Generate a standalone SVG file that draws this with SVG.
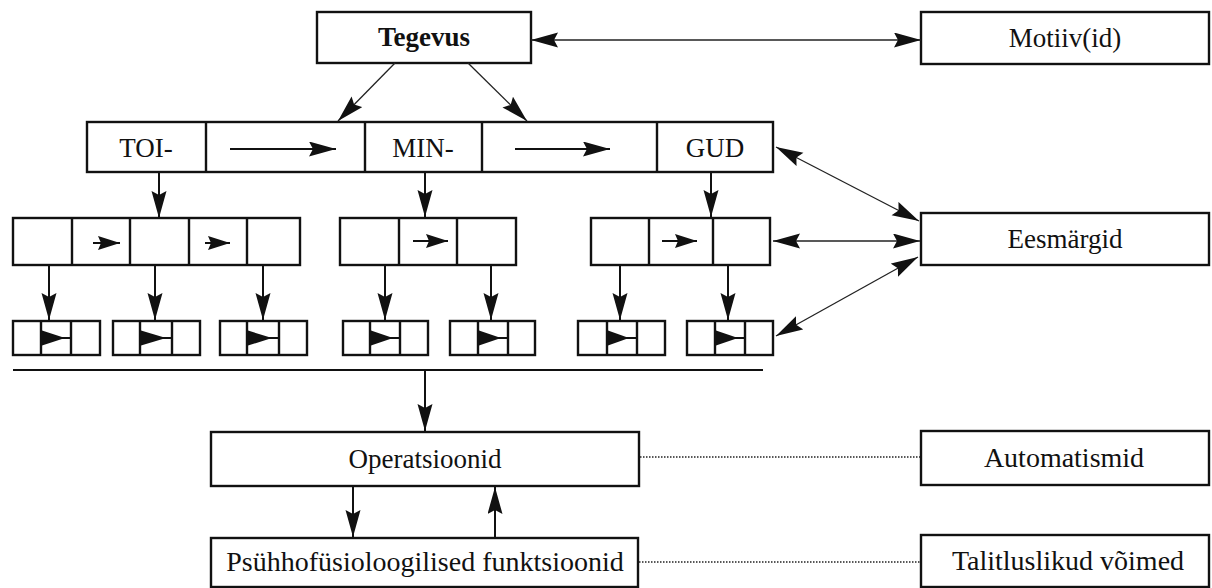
<svg xmlns="http://www.w3.org/2000/svg" width="1212" height="588" viewBox="0 0 1212 588">
  <style>
    .box { fill: #fff; stroke: #111; stroke-width: 2.4; }
    .cell { fill: none; stroke: #111; stroke-width: 2.4; }
    .lbl { font-family: "Liberation Serif", "Times New Roman", serif; font-size: 27px; fill: #111; text-anchor: middle; }
    .big { font-size: 28px; }
    .bold { font-weight: bold; }
    .arr { fill: none; stroke: #111; stroke-width: 2; }
    .thin { fill: none; stroke: #222; stroke-width: 1.3; }
    .dot { fill: none; stroke: #222; stroke-width: 1.3; stroke-dasharray: 1.5 1.5; }
    .head { fill: #111; }
  </style>
  <defs>
    <marker id="ah" markerUnits="userSpaceOnUse" markerWidth="30" markerHeight="16" refX="27" refY="7.5" orient="auto-start-reverse">
      <path d="M0,0 L27,7.5 L0,15 L4,7.5 Z" fill="#111"/>
    </marker>
    <marker id="ahs" markerUnits="userSpaceOnUse" markerWidth="26" markerHeight="16" refX="22" refY="7" orient="auto-start-reverse">
      <path d="M0,0 L22,7 L0,14 L3,7 Z" fill="#111"/>
    </marker>
  </defs>

  <rect width="1212" height="588" fill="#fff"/>

  <!-- top level -->
  <g id="tegevus">
    <rect class="box" x="317" y="12" width="214" height="51"/>
    <text class="lbl bold" x="424" y="46">Tegevus</text>
  </g>
  <g id="motiivid">
    <rect class="box" x="921" y="12" width="288" height="52"/>
    <text class="lbl" x="1065" y="47">Motiiv(id)</text>
  </g>

  <!-- TOI-MIN-GUD chain -->
  <g id="toimingud">
    <rect class="box" x="87" y="122" width="686" height="50"/>
    <path class="cell" d="M206,122 V172 M365,122 V172 M482,122 V172 M657,122 V172"/>
    <text class="lbl" x="146" y="157">TOI-</text>
    <text class="lbl" x="423" y="157">MIN-</text>
    <text class="lbl" x="715" y="157">GUD</text>
    <line class="arr" x1="230" y1="149" x2="336" y2="149" marker-end="url(#ah)"/>
    <line class="arr" x1="515" y1="149" x2="610" y2="149" marker-end="url(#ah)"/>
  </g>

  <!-- second level: action chains -->
  <g id="toi-steps">
    <rect class="box" x="13" y="218" width="287" height="47"/>
    <path class="cell" d="M72,218 V265 M130,218 V265 M189,218 V265 M247,218 V265"/>
    <line class="arr" x1="93" y1="243" x2="120" y2="243" marker-end="url(#ahs)"/>
    <line class="arr" x1="205" y1="243" x2="230" y2="243" marker-end="url(#ahs)"/>
  </g>
  <g id="min-steps">
    <rect class="box" x="340" y="218" width="176" height="47"/>
    <path class="cell" d="M399,218 V265 M457,218 V265"/>
    <line class="arr" x1="413" y1="241" x2="448" y2="241" marker-end="url(#ahs)"/>
  </g>
  <g id="gud-steps">
    <rect class="box" x="591" y="218" width="179" height="47"/>
    <path class="cell" d="M649,218 V265 M713,218 V265"/>
    <line class="arr" x1="662" y1="241" x2="697" y2="241" marker-end="url(#ahs)"/>
  </g>

  <!-- third level: elementary steps -->
  <g id="step-1">
    <rect class="box" x="13" y="321" width="87" height="34"/>
    <path class="cell" d="M41,321 V355 M71,321 V355"/>
    <line class="arr" x1="41" y1="338" x2="71" y2="338"/>
    <polygon class="head" points="42,330.5 65,338 42,345.5"/>
  </g>
  <g id="step-2">
    <rect class="box" x="113" y="321" width="87" height="34"/>
    <path class="cell" d="M140,321 V355 M172,321 V355"/>
    <line class="arr" x1="140" y1="338" x2="172" y2="338"/>
    <polygon class="head" points="141,330.5 166,338 141,345.5"/>
  </g>
  <g id="step-3">
    <rect class="box" x="220" y="321" width="87" height="34"/>
    <path class="cell" d="M247,321 V355 M279,321 V355"/>
    <line class="arr" x1="247" y1="338" x2="279" y2="338"/>
    <polygon class="head" points="248,330.5 272,338 248,345.5"/>
  </g>
  <g id="step-4">
    <rect class="box" x="343" y="321" width="85" height="34"/>
    <path class="cell" d="M370,321 V355 M400,321 V355"/>
    <line class="arr" x1="370" y1="338" x2="400" y2="338"/>
    <polygon class="head" points="371,330.5 393,338 371,345.5"/>
  </g>
  <g id="step-5">
    <rect class="box" x="450" y="321" width="85" height="34"/>
    <path class="cell" d="M478,321 V355 M508,321 V355"/>
    <line class="arr" x1="478" y1="338" x2="508" y2="338"/>
    <polygon class="head" points="479,330.5 501,338 479,345.5"/>
  </g>
  <g id="step-6">
    <rect class="box" x="578" y="321" width="87" height="34"/>
    <path class="cell" d="M607,321 V355 M637,321 V355"/>
    <line class="arr" x1="607" y1="338" x2="637" y2="338"/>
    <polygon class="head" points="608,330.5 629,338 608,345.5"/>
  </g>
  <g id="step-7">
    <rect class="box" x="687" y="321" width="86" height="34"/>
    <path class="cell" d="M715,321 V355 M745,321 V355"/>
    <line class="arr" x1="715" y1="338" x2="745" y2="338"/>
    <polygon class="head" points="716,330.5 738,338 716,345.5"/>
  </g>

  <g id="eesmargid">
    <rect class="box" x="921" y="213" width="288" height="52"/>
    <text class="lbl" x="1065" y="248">Eesmärgid</text>
  </g>

  <!-- separator under the action levels -->
  <g id="separator">
    <line x1="13" y1="370" x2="763" y2="370" stroke="#111" stroke-width="2"/>
  </g>

  <g id="operatsioonid">
    <rect class="box" x="211" y="432" width="428" height="54"/>
    <text class="lbl" x="425" y="468">Operatsioonid</text>
  </g>
  <g id="automatismid">
    <rect class="box" x="921" y="431" width="288" height="54"/>
    <text class="lbl big" x="1064" y="467">Automatismid</text>
  </g>
  <g id="funktsioonid">
    <rect class="box" x="211" y="538" width="427" height="49"/>
    <text class="lbl big" x="425" y="571">Psühhofüsioloogilised funktsioonid</text>
  </g>
  <g id="voimed">
    <rect class="box" x="921" y="535" width="288" height="52"/>
    <text class="lbl big" x="1068" y="570">Talitluslikud võimed</text>
  </g>

  <!-- connectors -->
  <g id="connectors">
    <line class="thin" x1="531" y1="40" x2="921" y2="40" marker-start="url(#ah)" marker-end="url(#ah)"/>
    <line class="thin" x1="395" y1="63" x2="338" y2="121" marker-end="url(#ah)"/>
    <line class="thin" x1="468" y1="63" x2="527" y2="121" marker-end="url(#ah)"/>

    <line class="arr" x1="159" y1="172" x2="159" y2="218" marker-end="url(#ah)"/>
    <line class="arr" x1="425" y1="172" x2="425" y2="217" marker-end="url(#ah)"/>
    <line class="arr" x1="711" y1="172" x2="711" y2="217" marker-end="url(#ah)"/>

    <line class="arr" x1="49" y1="265" x2="49" y2="320" marker-end="url(#ah)"/>
    <line class="arr" x1="155" y1="265" x2="155" y2="320" marker-end="url(#ah)"/>
    <line class="arr" x1="263" y1="265" x2="263" y2="320" marker-end="url(#ah)"/>
    <line class="arr" x1="385" y1="265" x2="385" y2="320" marker-end="url(#ah)"/>
    <line class="arr" x1="491" y1="265" x2="491" y2="320" marker-end="url(#ah)"/>
    <line class="arr" x1="620" y1="266" x2="620" y2="320" marker-end="url(#ah)"/>
    <line class="arr" x1="728" y1="265" x2="728" y2="320" marker-end="url(#ah)"/>

    <line class="thin" x1="776" y1="147" x2="919" y2="221" marker-start="url(#ah)" marker-end="url(#ah)"/>
    <line class="thin" x1="773" y1="241" x2="920" y2="241" marker-start="url(#ah)" marker-end="url(#ah)"/>
    <line class="thin" x1="776" y1="336" x2="918" y2="257" marker-start="url(#ah)" marker-end="url(#ah)"/>

    <line class="arr" x1="425" y1="371" x2="425" y2="431" marker-end="url(#ah)"/>
    <line class="arr" x1="353" y1="486" x2="353" y2="537" marker-end="url(#ah)"/>
    <line class="arr" x1="495" y1="538" x2="495" y2="487" marker-end="url(#ah)"/>

    <line class="dot" x1="640" y1="457" x2="920" y2="457"/>
    <line class="dot" x1="639" y1="562" x2="920" y2="562"/>
  </g>
</svg>
